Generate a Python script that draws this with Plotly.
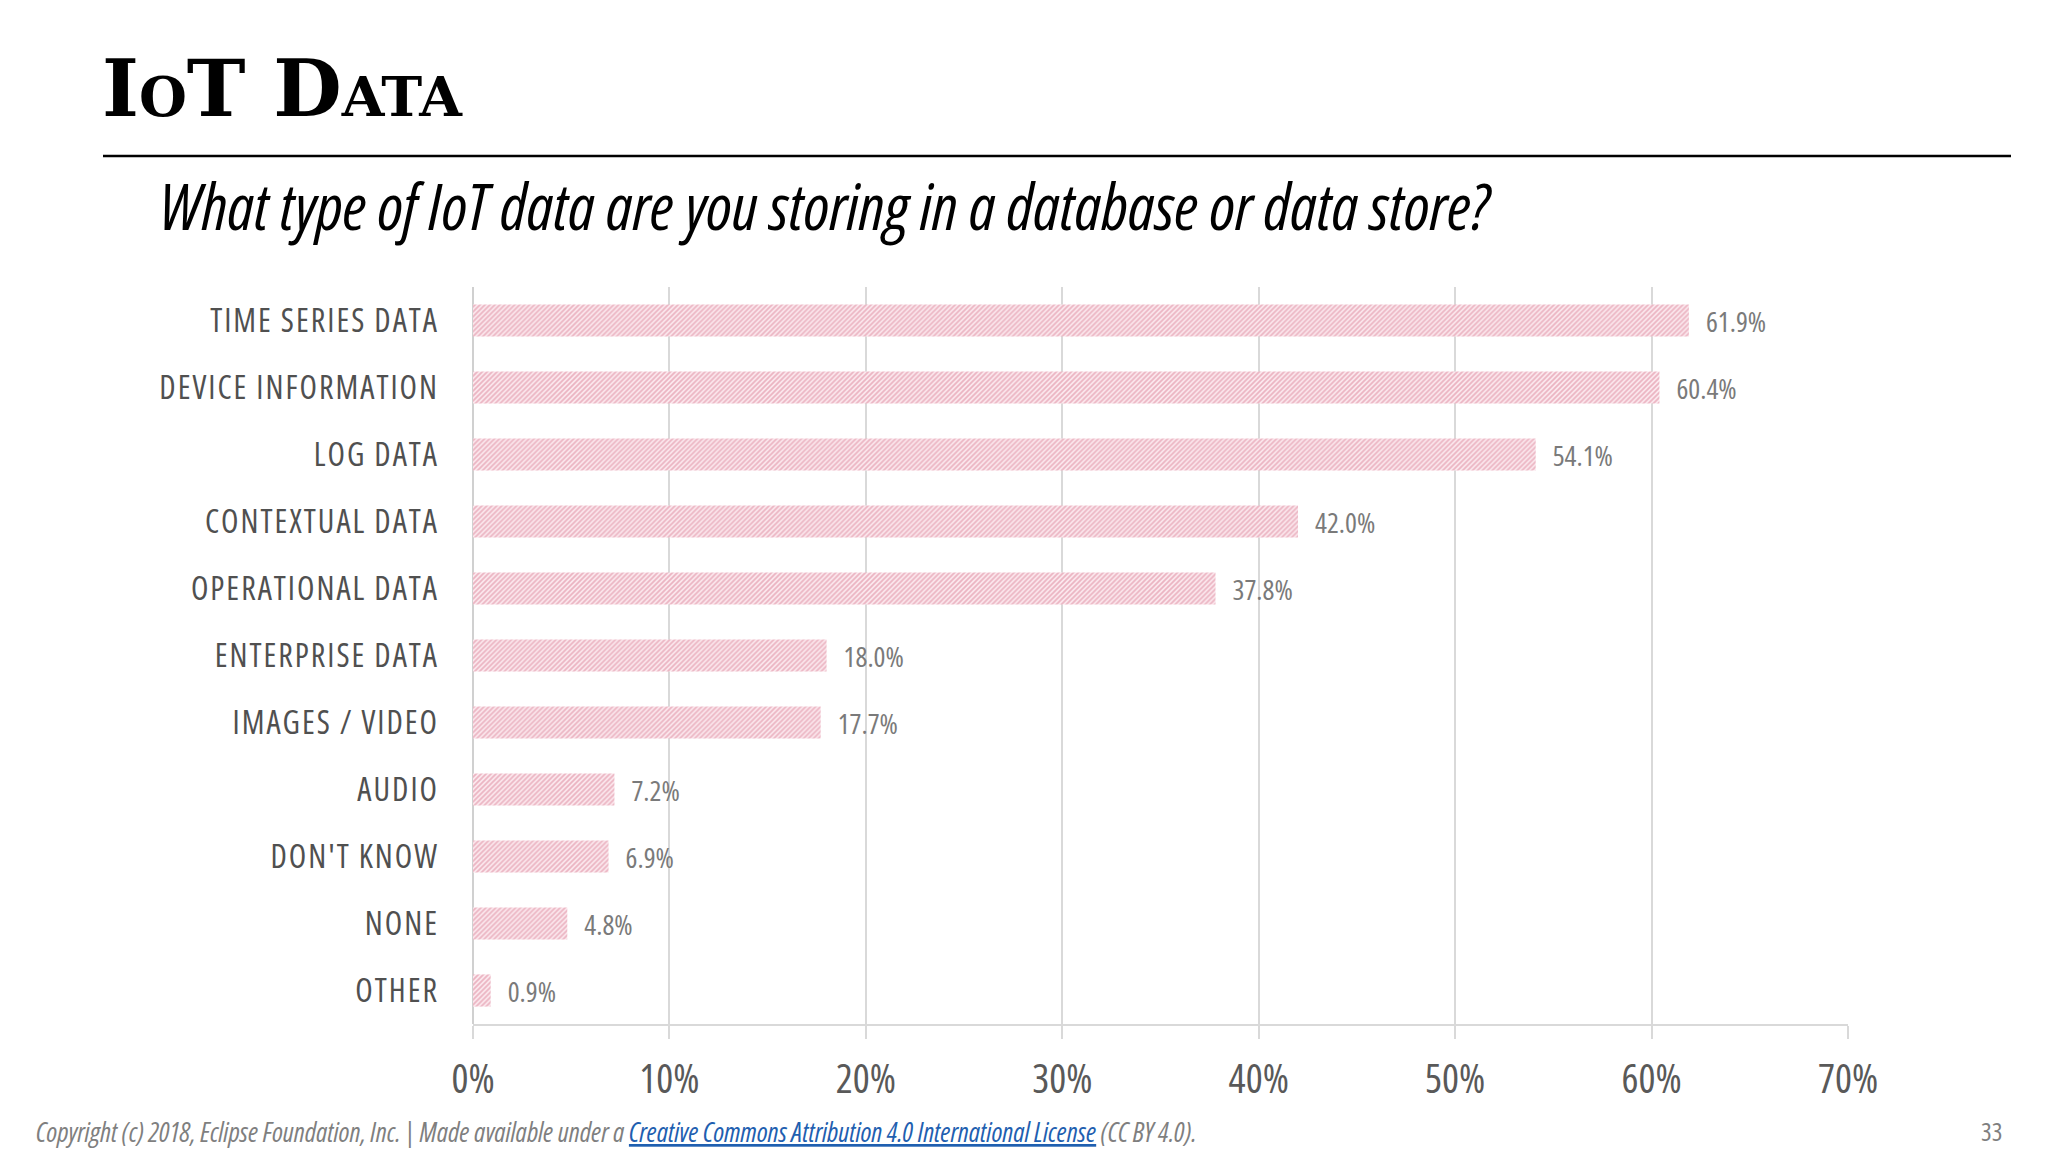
import plotly.graph_objects as go

categories = ["TIME SERIES DATA", "DEVICE INFORMATION", "LOG DATA", "CONTEXTUAL DATA",
              "OPERATIONAL DATA", "ENTERPRISE DATA", "IMAGES / VIDEO", "AUDIO",
              "DON'T KNOW", "NONE", "OTHER"]
values = [61.9, 60.4, 54.1, 42.0, 37.8, 18.0, 17.7, 7.2, 6.9, 4.8, 0.9]
tick_vals = [0, 10, 20, 30, 40, 50, 60, 70]
tick_text = ["0%", "10%", "20%", "30%", "40%", "50%", "60%", "70%"]

W, H = 2048, 1152
L, R, T, B = 473, 200, 287, 128
PW, PH = W - L - R, H - T - B

def px(x):
    return (x - L) / PW

def py(y):
    return (H - B - y) / PH

FONT = "Open Sans, Roboto, sans-serif"

def cond(s, extra=""):
    return f"<span style='font-stretch:condensed;{extra}'>{s}</span>"

fig = go.Figure()
fig.add_trace(go.Bar(
    y=categories, x=values, orientation="h",
    marker=dict(color="#f7dbe2", line=dict(width=0),
                pattern=dict(shape="/", fgcolor="#dc7f96", bgcolor="#fbe9ee",
                             size=3.5, solidity=0.5)),
    text=[cond("\u2002" + f"{v:.1f}%") for v in values], textposition="outside",
    textfont=dict(family=FONT, size=28, color="#7a7a7a"),
    constraintext="none", cliponaxis=False, hoverinfo="skip",
))

fig.update_layout(
    width=W, height=H, margin=dict(l=L, r=R, t=T, b=B),
    paper_bgcolor="white", plot_bgcolor="white",
    bargap=0.52, showlegend=False,
    xaxis=dict(range=[0, 70], tickvals=tick_vals, ticktext=[cond(t) for t in tick_text],
               showgrid=True, gridcolor="#d9d9d9", gridwidth=2,
               showline=True, linecolor="#d9d9d9", linewidth=2,
               ticks="outside", ticklen=13, tickcolor="#d9d9d9", tickwidth=2,
               zeroline=True, zerolinecolor="#d0d0d0", zerolinewidth=2,
               tickfont=dict(family=FONT, size=40, color="#595959"),
               ticklabelstandoff=6),
    yaxis=dict(autorange="reversed", showgrid=False, ticks="",
               tickvals=categories,
               ticktext=[cond(c, "letter-spacing:2px") for c in categories],
               tickfont=dict(family=FONT, size=32, color="#505050"),
               ticklabelstandoff=33),
)

fig.add_annotation(xref="paper", yref="paper", x=px(100), y=py(89),
                   xanchor="left", yanchor="middle", showarrow=False,
                   text="<b>IoT Data</b>",
                   font=dict(family="DejaVu Serif, Liberation Serif, serif", size=79,
                             color="black", variant="small-caps"))
fig.add_shape(type="line", xref="paper", yref="paper",
              x0=px(103), x1=px(2011), y0=py(156), y1=py(156),
              line=dict(color="black", width=2.5))
fig.add_annotation(xref="paper", yref="paper", x=px(158), y=py(205),
                   xanchor="left", yanchor="middle", showarrow=False,
                   text=cond("<i>What type of IoT data are you storing in a database or data store?</i>"),
                   font=dict(family=FONT, size=64, color="black"))
fig.add_annotation(xref="paper", yref="paper", x=px(34), y=py(1131),
                   xanchor="left", yanchor="middle", showarrow=False,
                   text=cond("<i>Copyright (c) 2018, Eclipse Foundation, Inc. | Made available under a "
                             "<span style='color:#1f5fb0'><u>Creative Commons Attribution 4.0 International License</u></span>"
                             " (CC BY 4.0).</i>"),
                   font=dict(family=FONT, size=27, color="#7f7f7f"))
fig.add_annotation(xref="paper", yref="paper", x=px(2004), y=py(1131),
                   xanchor="right", yanchor="middle", showarrow=False,
                   text=cond("33"), font=dict(family=FONT, size=25, color="#7f7f7f"))

fig.write_html("out.html", config={"displayModeBar": False},
               post_script="document.body.style.margin='0px';")
